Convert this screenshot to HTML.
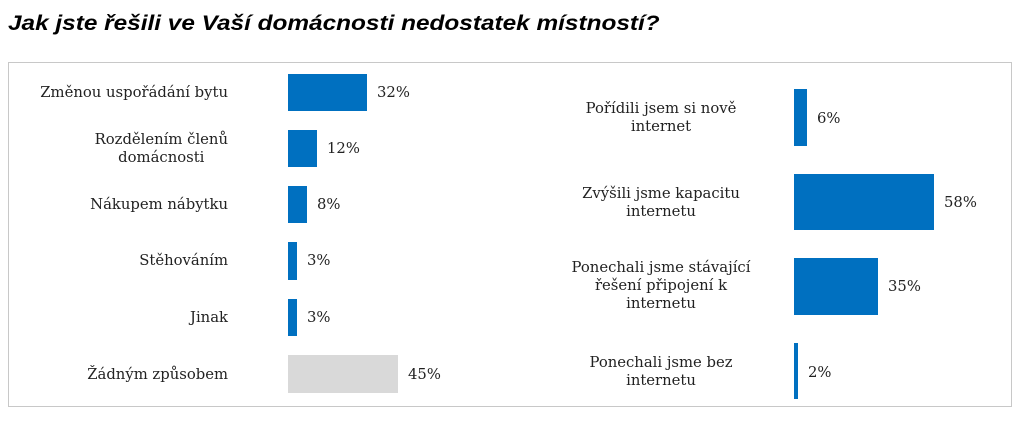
<!DOCTYPE html>
<html><head><meta charset="utf-8"><style>
body{margin:0;width:1024px;height:421px;background:#fff;position:relative;overflow:hidden;font-family:"DejaVu Serif",serif;color:#222}
.t{position:absolute;left:8px;top:12px;font:italic bold 21px "Liberation Sans",sans-serif;color:#000;transform:scaleX(1.16);transform-origin:0 0;white-space:nowrap}
.box{position:absolute;left:8px;top:62px;width:1004px;height:345px;border:1px solid #c8c8c8;box-sizing:border-box}
.b{position:absolute;background:#0070c0}
.l{position:absolute;font-size:14.8px;line-height:18px;white-space:nowrap}
.r{text-align:right;width:220px;left:8px}
.r span{display:inline-block;text-align:center}
.c{text-align:center;width:240px;left:541px}
</style></head><body>
<div class="t">Jak jste řešili ve Vaší domácnosti nedostatek místností?</div>
<div class="box"></div>

<div class="l r" style="top:84px">Změnou uspořádání bytu</div>
<div class="b" style="left:288px;top:74px;width:79px;height:37px"></div><div class="l" style="left:377px;top:84px">32%</div>
<div class="l r" style="top:131px"><span>Rozdělením členů<br>domácnosti</span></div>
<div class="b" style="left:288px;top:130px;width:29px;height:37px"></div><div class="l" style="left:327px;top:140px">12%</div>
<div class="l r" style="top:196px">Nákupem nábytku</div>
<div class="b" style="left:288px;top:186px;width:19px;height:37px"></div><div class="l" style="left:317px;top:196px">8%</div>
<div class="l r" style="top:252px">Stěhováním</div>
<div class="b" style="left:288px;top:242px;width:9px;height:38px"></div><div class="l" style="left:307px;top:252px">3%</div>
<div class="l r" style="top:309px">Jinak</div>
<div class="b" style="left:288px;top:299px;width:9px;height:37px"></div><div class="l" style="left:307px;top:309px">3%</div>
<div class="l r" style="top:366px">Žádným způsobem</div>
<div class="b" style="left:288px;top:355px;width:110px;height:38px;background:#d9d9d9"></div><div class="l" style="left:408px;top:366px">45%</div>

<div class="l c" style="top:100px">Pořídili jsem si nově<br>internet</div>
<div class="b" style="left:794px;top:89px;width:13px;height:57px"></div><div class="l" style="left:817px;top:110px">6%</div>
<div class="l c" style="top:185px">Zvýšili jsme kapacitu<br>internetu</div>
<div class="b" style="left:794px;top:174px;width:140px;height:56px"></div><div class="l" style="left:944px;top:194px">58%</div>
<div class="l c" style="top:259px">Ponechali jsme stávající<br>řešení připojení k<br>internetu</div>
<div class="b" style="left:794px;top:258px;width:84px;height:57px"></div><div class="l" style="left:888px;top:278px">35%</div>
<div class="l c" style="top:354px">Ponechali jsme bez<br>internetu</div>
<div class="b" style="left:794px;top:343px;width:4px;height:56px"></div><div class="l" style="left:808px;top:364px">2%</div>
</body></html>
